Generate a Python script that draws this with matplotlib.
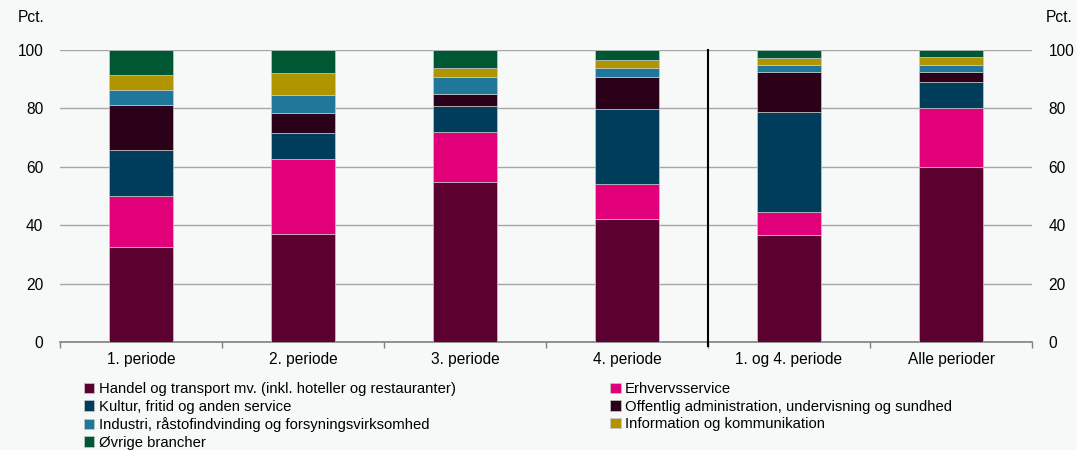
import matplotlib.pyplot as plt
import numpy as np

plt.rcParams['font.family'] = ['Liberation Sans', 'DejaVu Sans']

categories = ["1. periode", "2. periode", "3. periode", "4. periode",
              "1. og 4. periode", "Alle perioder"]

series_names = [
    "Handel og transport mv. (inkl. hoteller og restauranter)",
    "Erhvervsservice",
    "Kultur, fritid og anden service",
    "Offentlig administration, undervisning og sundhed",
    "Industri, råstofindvinding og forsyningsvirksomhed",
    "Information og kommunikation",
    "Øvrige brancher",
]

handel = [32.6, 37.0, 54.9, 42.1, 36.7, 59.8]
erhverv = [17.5, 25.6, 17.1, 12.0, 7.9, 20.4]
kultur = [15.7, 9.0, 8.8, 25.7, 34.1, 9.0]
offentlig = [15.2, 6.9, 4.3, 10.8, 13.6, 3.4]
industri = [5.2, 6.1, 5.8, 3.1, 2.7, 2.1]
information = [5.4, 7.5, 3.0, 2.9, 2.4, 2.9]
oevrige = [8.4, 7.9, 6.1, 3.4, 2.6, 2.4]

colors = ["#5c0030", "#e2007a", "#003d5b", "#2b0019", "#1f7899", "#b09400", "#005733"]

bg = "#f7f9f9"

fig = plt.figure(figsize=(10.77, 4.5), dpi=100, facecolor=bg)
ax = fig.add_axes([60 / 1077, 1 - 342 / 450, 972 / 1077, 292 / 450])
ax.set_facecolor(bg)

x = np.arange(len(categories))
bottom = np.zeros(len(categories))
handles = []
for name, vals, col in zip(series_names,
                           [handel, erhverv, kultur, offentlig, industri, information, oevrige],
                           colors):
    b = ax.bar(x, vals, bottom=bottom, width=0.4, color=col, edgecolor="#c8c8c8",
               linewidth=0.5, label=name, zorder=3)
    handles.append(b)
    bottom += np.array(vals)

ax.set_xlim(-0.5, len(categories) - 0.5)
ax.set_ylim(0, 100)
ax.set_yticks(range(0, 101, 20))
ax.yaxis.grid(True, color="#a6a6a6", linewidth=1, zorder=0)
ax.tick_params(axis="y", length=0, labelsize=11.2, pad=12, labelright=True)

ax.set_xticks(x)
ax.set_xticklabels(categories, fontsize=11.2)
ax.tick_params(axis="x", length=0, pad=7)
ax.set_xticks(np.arange(-0.5, len(categories), 1), minor=True)
ax.tick_params(axis="x", which="minor", length=4, color="#808080", width=1)

for s in ["top", "left", "right"]:
    ax.spines[s].set_visible(False)
ax.spines["bottom"].set_color("#808080")
ax.spines["bottom"].set_linewidth(1.2)

ax.axvline(3.5, ymin=-0.015, ymax=1, color="black", linewidth=1.5, clip_on=False, zorder=4)

fig.text(18 / 1077, 1 - 18 / 450, "Pct.", fontsize=11.2, va="center", ha="left")
fig.text(1046 / 1077, 1 - 18 / 450, "Pct.", fontsize=11.2, va="center", ha="left")

# legend is filled column by column, so reorder to read row by row
order = [0, 2, 4, 6, 1, 3, 5]
leg = fig.legend(handles=[handles[i] for i in order], loc="upper left",
                 bbox_to_anchor=(78 / 1077, 1 - 376 / 450),
                 ncol=2, frameon=False, fontsize=10.7, handlelength=0.7, handleheight=0.7,
                 handletextpad=0.3, labelspacing=0.24, columnspacing=10.4, borderaxespad=0)

fig.savefig("out.png", dpi=100, facecolor=bg)
